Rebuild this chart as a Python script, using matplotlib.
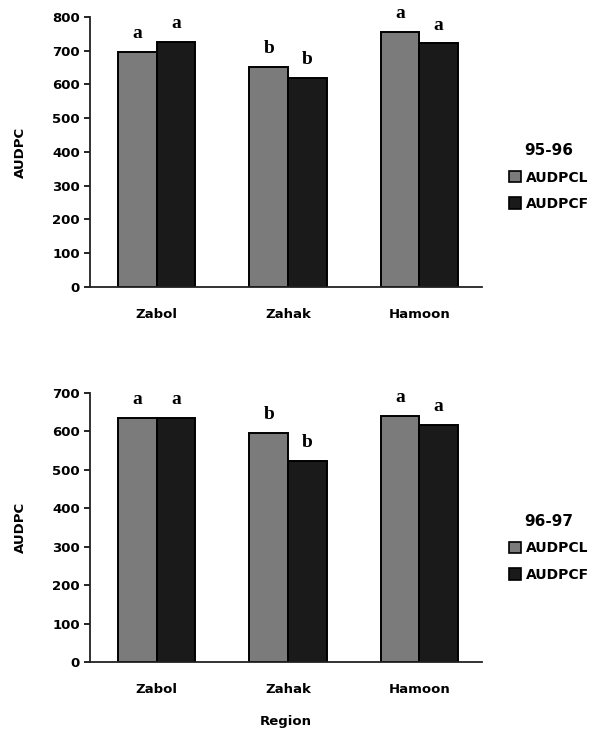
import numpy as np
import matplotlib.pyplot as plt
from matplotlib.patches import Patch

# data
regions = ["Zabol", "Zahak", "Hamoon"]
audpcl_9596 = [697, 652, 757]
audpcf_9596 = [727, 620, 722]
audpcl_9697 = [635, 596, 640]
audpcf_9697 = [635, 524, 618]
letters_l_9596 = ["a", "b", "a"]
letters_f_9596 = ["a", "b", "a"]
letters_l_9697 = ["a", "b", "a"]
letters_f_9697 = ["a", "b", "a"]

GRAY = "#7b7b7b"
BLACK = "#1a1a1a"
W = 0.294


def draw_panel(ax, vals_l, vals_f, lets_l, lets_f, ymax, season, legend_y):
    x = np.arange(len(regions))
    b1 = ax.bar(x - W / 2, vals_l, W, color=GRAY, edgecolor="black", linewidth=1.4)
    b2 = ax.bar(x + W / 2, vals_f, W, color=BLACK, edgecolor="black", linewidth=1.4)

    # significance letters above each bar
    for bars, lets in ((b1, lets_l), (b2, lets_f)):
        for rect, let in zip(bars, lets):
            ax.annotate(let, xy=(rect.get_x() + rect.get_width() / 2, rect.get_height()),
                        xytext=(0, 7), textcoords="offset points",
                        ha="center", va="bottom", fontsize=14, fontweight="bold",
                        family="Liberation Serif")

    ax.set_xlim(-0.51, 2.48)
    ax.set_ylim(0, ymax)
    ax.set_yticks(np.arange(0, ymax + 1, 100))
    ax.set_xticks(x)
    ax.set_xticklabels(regions)
    for s in ("top", "right"):
        ax.spines[s].set_visible(False)
    for s in ("left", "bottom"):
        ax.spines[s].set_linewidth(1.3)
        ax.spines[s].set_color("#222222")
    ax.tick_params(axis="x", length=0, pad=15, labelsize=9.5)
    ax.tick_params(axis="y", length=4, width=1.2, pad=3, labelsize=9.5)
    for lab in ax.get_xticklabels() + ax.get_yticklabels():
        lab.set_fontweight("bold")
    ax.set_ylabel("AUDPC", fontsize=9.5, fontweight="bold", labelpad=18)

    handles = [Patch(facecolor=GRAY, edgecolor="black", linewidth=1.2, label="AUDPCL"),
               Patch(facecolor=BLACK, edgecolor="black", linewidth=1.2, label="AUDPCF")]
    fig.legend(handles=handles, title=season, loc="center left",
               bbox_to_anchor=(0.84, legend_y), frameon=False,
               handlelength=0.9, handleheight=0.9, handletextpad=0.3,
               labelspacing=0.9,
               prop={"weight": "bold", "size": 10},
               title_fontproperties={"weight": "bold", "size": 11})


fig = plt.figure(figsize=(5.91, 7.33), dpi=100)

ax1 = fig.add_axes([0.152, 0.6085, 0.664, 0.3683])
draw_panel(ax1, audpcl_9596, audpcf_9596, letters_l_9596, letters_f_9596,
           800, "95-96", 1 - 177 / 733)

ax2 = fig.add_axes([0.152, 0.0969, 0.664, 0.3669])
draw_panel(ax2, audpcl_9697, audpcf_9697, letters_l_9697, letters_f_9697,
           700, "96-97", 1 - 548 / 733)
ax2.set_xlabel("Region", fontsize=9.5, fontweight="bold", labelpad=14)

fig.savefig("out.png", dpi=100)
